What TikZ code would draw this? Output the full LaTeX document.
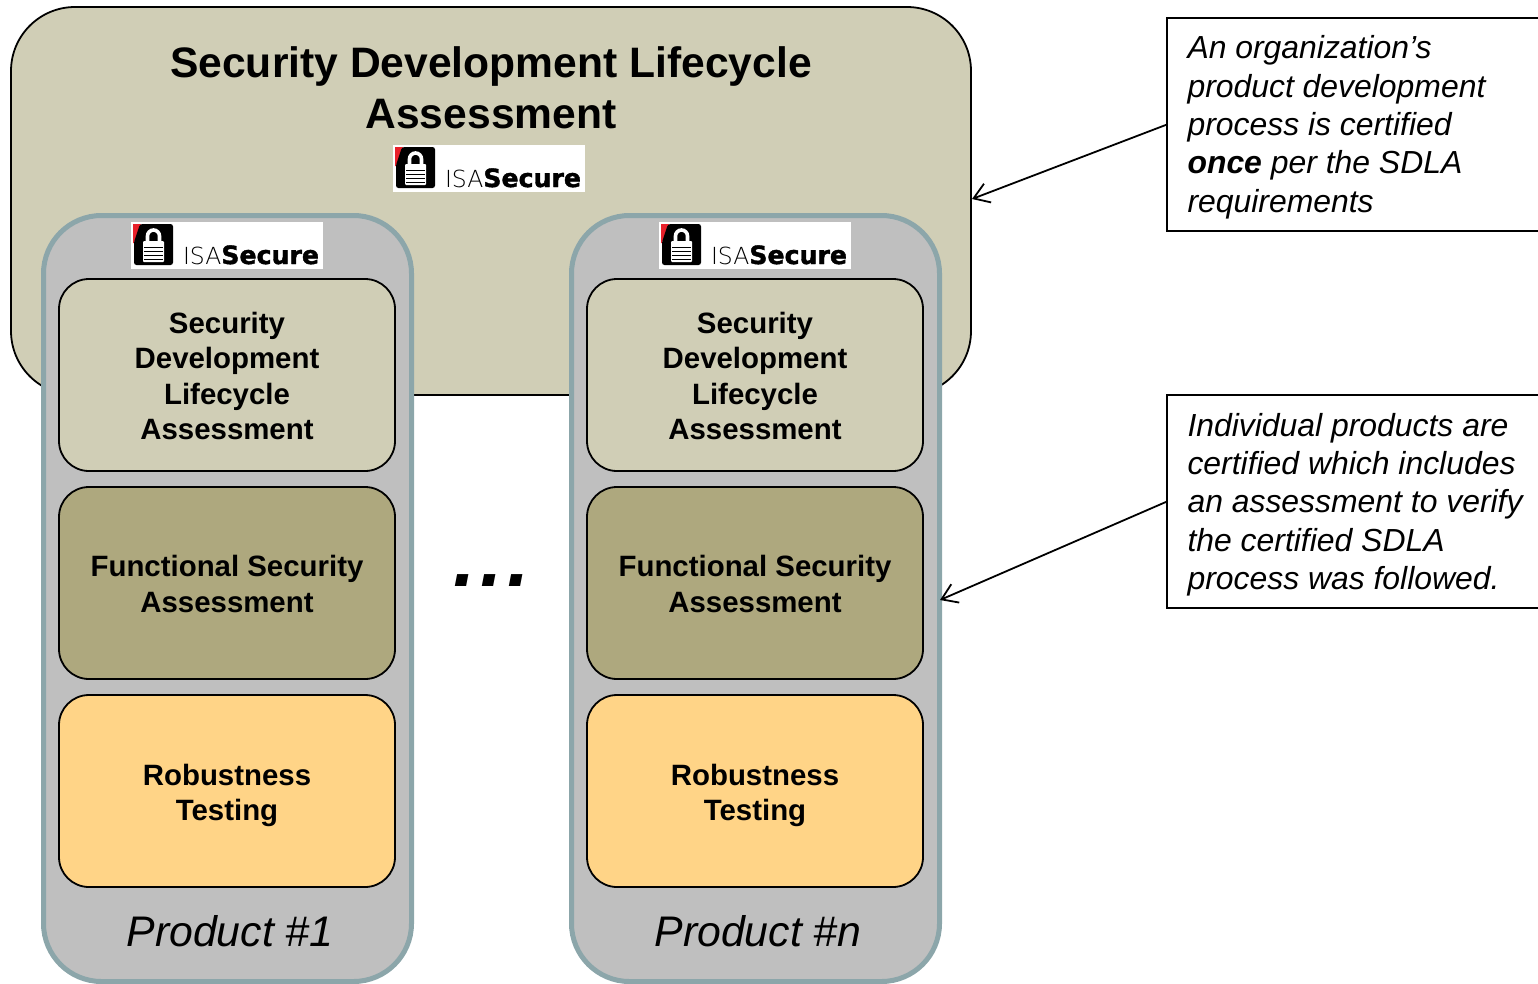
\documentclass[tikz,border=0pt]{standalone}
\usepackage{fontspec}
\setmainfont{Liberation Sans}
\newfontfamily\logoheavy{DejaVu Sans Bold}[FakeBold=1.5]
\newfontfamily\logolight{DejaVu Sans ExtraLight}
\usetikzlibrary{arrows.meta,positioning}
\definecolor{khaki}{HTML}{D0CEB6}
\definecolor{olive}{HTML}{AEA87E}
\definecolor{peach}{HTML}{FFD487}
\definecolor{prodgray}{HTML}{BFBFBF}
\definecolor{prodedge}{HTML}{8CA6AA}
\definecolor{logored}{HTML}{E8202A}
\tikzset{
  x=1pt,y=-1pt,
  every node/.style={outer sep=0pt},
  stagebox/.style={draw=black,line width=1.8pt,rounded corners=30pt,minimum width=336pt,minimum height=192pt,inner sep=0pt,align=center,font=\fontsize{29.4}{35.5}\selectfont\bfseries,anchor=north west},
  prodbox/.style={draw=prodedge,fill=prodgray,line width=5pt,rounded corners=58pt,minimum width=368pt,minimum height=766pt,inner sep=0pt,anchor=north west},
  notebox/.style={draw=black,fill=white,line width=1.6pt,minimum width=380pt,inner sep=0pt,anchor=north west},
  notetext/.style={align=left,anchor=north west,inner sep=0pt,font=\fontsize{31.9}{38.4}\selectfont\itshape},
  prodlabel/.style={font=\fontsize{42.8}{50}\selectfont\itshape,inner sep=0pt},
  callout/.style={draw=black,line width=1.8pt,-{Straight Barb[length=15pt,width=20pt,line width=1.8pt]}},
}
\newcommand{\isalogo}[3]{%
  \begin{scope}[shift={(#1,#2)}]
    \fill[white] (0,0) rectangle (192,47);
    \fill[logored] (2,2) -- (10,2) -- (3,21) -- (2,21) -- cycle;
    \fill[black,rounded corners=2.5pt] (9,2) -- (42,2) -- (42,43) -- (3,43) -- (3,20) -- cycle;
    \draw[white,line width=3.6pt] (16.5,22) -- (16.5,14) arc[start angle=180,end angle=360,radius=6] -- (28.5,22);
    \fill[white,rounded corners=1pt] (12,19) rectangle (33,40);
    \foreach \yy in {25,29,33,37} \fill[black] (13,\yy) rectangle (32,\yy+1.3);
    \node[anchor=base west,inner sep=0pt] (#3) at (52,42) {\logolight\fontsize{23.5}{25}\selectfont ISA\logoheavy\fontsize{25.2}{25}\selectfont Secure};
  \end{scope}}
\begin{document}
\begin{tikzpicture}
\useasboundingbox (0,0) rectangle (1538,983);
\clip (0,0) rectangle (1538,983);
\node[draw=black,fill=khaki,line width=1.8pt,rounded corners=64pt,minimum width=960pt,minimum height=388pt,inner sep=0pt,anchor=north west] (sdla) at (11,7) {};
\node[align=center,font=\fontsize{42.6}{51}\selectfont\bfseries,inner sep=0pt,anchor=north] (title) at (491,47) {Security Development Lifecycle\\Assessment};
\isalogo{393}{145}{logoa}
\node[prodbox] (p1) at (43.5,215.5) {};
\node[prodbox] (p2) at (571.5,215.5) {};
\isalogo{131}{222}{logob}
\isalogo{659}{222}{logoc}
\node[stagebox,fill=khaki] (a1) at (59,279) {\rule{0pt}{23pt}Security\\Development\\Lifecycle\\Assessment};
\node[stagebox,fill=olive] (f1) at (59,487) {\rule{0pt}{23pt}Functional Security\\Assessment};
\node[stagebox,fill=peach] (r1) at (59,695) {\rule{0pt}{30pt}Robustness\\Testing};
\node[stagebox,fill=khaki] (a2) at (587,279) {\rule{0pt}{23pt}Security\\Development\\Lifecycle\\Assessment};
\node[stagebox,fill=olive] (f2) at (587,487) {\rule{0pt}{23pt}Functional Security\\Assessment};
\node[stagebox,fill=peach] (r2) at (587,695) {\rule{0pt}{30pt}Robustness\\Testing};
\node[prodlabel] (n1) at (230,931) {Product \#1};
\node[prodlabel] (n2) at (758,931) {Product \#n};
\node[inner sep=0pt,font=\fontsize{80}{80}\selectfont\bfseries\itshape] (dots) at (491.5,581) {.\hspace{5pt}.\hspace{5pt}.};
\node[notebox,minimum height=213pt] (b1) at (1167,18) {};
\node[notebox,minimum height=213pt] (b2) at (1167,395) {};
\node[notetext] (t1) at (1187.5,35.5) {An organization’s\\product development\\process is certified\\\textbf{once} per the SDLA\\requirements};
\node[notetext] (t2) at (1187.5,413) {Individual products are\\certified which includes\\an assessment to verify\\the certified SDLA\\process was followed.};
\coordinate (ca) at (972,199);
\coordinate (cb) at (940,600);
\draw[callout] (b1.west) -- (ca);
\draw[callout] (b2.west) -- (cb);
\end{tikzpicture}
\end{document}
